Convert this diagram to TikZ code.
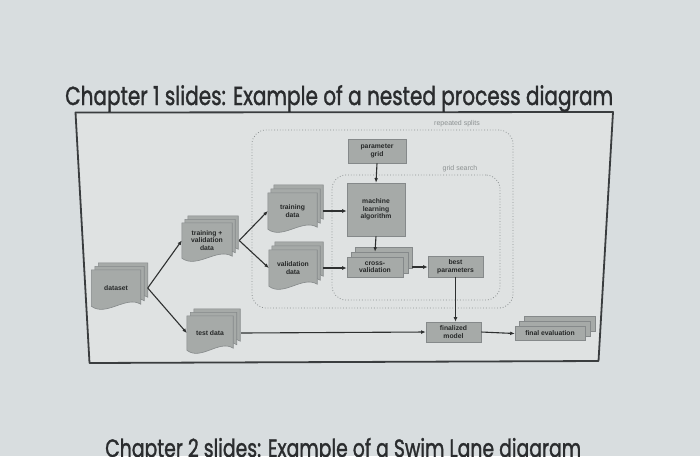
\documentclass[tikz,border=0pt]{standalone}
\usepackage{graphicx}
\usepackage{fontspec}
\setmainfont{Liberation Sans}
\newfontfamily\titlefont{Poppins}[FakeBold=1.6]
\usetikzlibrary{arrows.meta,calc}
\pgfdeclarelayer{bg}
\pgfdeclarelayer{sheets}
\pgfsetlayers{bg,sheets,main}
\definecolor{pagebg}{HTML}{D8DDDF}
\definecolor{framefill}{HTML}{DFE2E2}
\definecolor{framec}{HTML}{3A3D3F}
\definecolor{nodefill}{HTML}{A6AAA8}
\definecolor{nodeedge}{HTML}{85898A}
\definecolor{nodetext}{HTML}{262828}
\definecolor{arrowc}{HTML}{2E3030}
\definecolor{groupc}{HTML}{8C9192}
\definecolor{titlec}{HTML}{2A2C2E}
\tikzset{
  box/.style={rectangle, fill=nodefill, draw=nodeedge, line width=0.6pt, inner sep=0pt,
    font=\fontsize{6.8}{7.6}\selectfont\bfseries, text=nodetext, align=center},
  docnode/.style={rectangle, inner sep=0pt, font=\fontsize{6.8}{7.6}\selectfont\bfseries,
    text=nodetext, align=center},
  sheet/.style={fill=nodefill, draw=nodeedge, line width=0.6pt},
  flow/.style={draw=arrowc, line width=1.1pt, -{Latex[length=4.5pt,width=3.8pt]}},
  group/.style={draw=groupc, dotted, line width=0.8pt, rounded corners=14pt, inner sep=0pt},
  grouplabel/.style={font=\fontsize{7}{8}\selectfont, text=groupc, inner sep=0pt},
  headline/.style={anchor=base west, inner sep=0pt, text=titlec},
}
% stacked document sheets behind a node: name, count, dx, dy
\newcommand\docstack[4]{%
  \begin{pgfonlayer}{sheets}
  \foreach \k in {#2,...,0}{%
    \draw[sheet] ($(#1.north west)+(\k*#3,\k*#4)$) -- ($(#1.north east)+(\k*#3,\k*#4)$)
      -- ($(#1.south east)+(\k*#3,\k*#4-2)$)
      .. controls ($(#1.south east)!0.3!(#1.south west)+(\k*#3,\k*#4-11)$)
      and ($(#1.south east)!0.7!(#1.south west)+(\k*#3,\k*#4+11)$)
      .. ($(#1.south west)+(\k*#3,\k*#4)$) -- cycle;}
  \end{pgfonlayer}}
% stacked rectangles behind a box node: name, count, dx, dy
\newcommand\rectstack[4]{%
  \begin{pgfonlayer}{sheets}
  \foreach \k in {#2,...,1}{%
    \draw[sheet] ($(#1.south west)+(\k*#3,\k*#4)$) rectangle ($(#1.north east)+(\k*#3,\k*#4)$);}
  \end{pgfonlayer}}
\begin{document}
\begin{tikzpicture}[x=1pt,y=-1pt]
\begin{pgfonlayer}{bg}
  \fill[pagebg] (0,0) rectangle (700,456);
  \draw[framec, line width=1.8pt, fill=framefill, line join=round]
    (75.5,112.5) -- (613,112) -- (598.5,361) -- (89.5,363) -- cycle;
\end{pgfonlayer}
\useasboundingbox (0,0) rectangle (700,456);

% headlines
\node[headline] (title) at (65,105)
  {\resizebox{548pt}{\height}{\titlefont\fontsize{26}{30}\selectfont Chapter 1 slides: Example of a nested process diagram}};
\node[headline] (next) at (105,457)
  {\resizebox{476pt}{\height}{\titlefont\fontsize{25}{30}\selectfont Chapter 2 slides: Example of a Swim Lane diagram}};

% groups
\node[group, minimum width=261pt, minimum height=178pt] (outer) at (382.5,219) {};
\node[grouplabel] (outerlabel) at (457,124) {repeated splits};
\node[group, minimum width=168pt, minimum height=125pt] (inner) at (416,237.5) {};
\node[grouplabel] (innerlabel) at (460,169) {grid search};

% document nodes
\node[docnode, minimum width=49pt, minimum height=36pt] (dataset) at (116,288) {dataset};
\node[docnode, minimum width=50pt, minimum height=35pt] (tvd) at (207,240.5) {training +\\validation\\data};
\node[docnode, minimum width=46pt, minimum height=34pt] (test) at (210,333) {test data};
\node[docnode, minimum width=49pt, minimum height=36pt] (train) at (292.5,211) {training\\data};
\node[docnode, minimum width=48pt, minimum height=36pt] (valid) at (293,268) {validation\\data};
\docstack{dataset}{2}{3.5}{-3.5}
\docstack{tvd}{2}{3}{-3.5}
\docstack{test}{2}{3.5}{-3.5}
\docstack{train}{2}{3}{-4}
\docstack{valid}{2}{3}{-4}

% box nodes
\node[box, minimum width=58pt, minimum height=24pt] (pgrid) at (377,151) {parameter\\grid};
\node[box, minimum width=58pt, minimum height=53pt] (mla) at (376,209.5) {machine\\learning\\algorithm};
\node[box, minimum width=56pt, minimum height=20pt] (cv) at (375,267) {cross-\\validation};
\rectstack{cv}{2}{4.5}{-4.5}
\node[box, minimum width=55pt, minimum height=21pt] (best) at (455.5,266.5) {best\\parameters};
\node[box, minimum width=55pt, minimum height=20pt] (fmodel) at (453.5,332) {finalized\\model};
\node[box, minimum width=70pt, minimum height=14pt] (feval) at (550,333.5) {final evaluation};
\rectstack{feval}{2}{5}{-5}

% connectors
\draw[flow] ($(dataset.east)+(7,0)$) -- (tvd.west);
\draw[flow] ($(dataset.east)+(7,0)$) -- (test.west);
\draw[flow] ($(tvd.east)+(7,0)$) -- (train.west);
\draw[flow] ($(tvd.east)+(7,0)$) -- (valid.west);
\draw[flow] ($(train.east)+(6,0)$) -- (train.east -| mla.west);
\draw[flow] ($(valid.east)+(6,0)$) -- (valid.east -| cv.west);
\draw[flow] (pgrid.south) -- (mla.north);
\draw[flow] (mla.south) -- ($(cv.north)+(0,-5)$);
\draw[flow] ($(cv.east)+(9,0)$) -- (cv.east -| best.west);
\draw[flow] (best.south) -- (best.south |- fmodel.north);
\draw[flow] ($(test.east)+(8,0)$) -- (fmodel.west);
\draw[flow] (fmodel.east) -- (feval.west);
\end{tikzpicture}
\end{document}
